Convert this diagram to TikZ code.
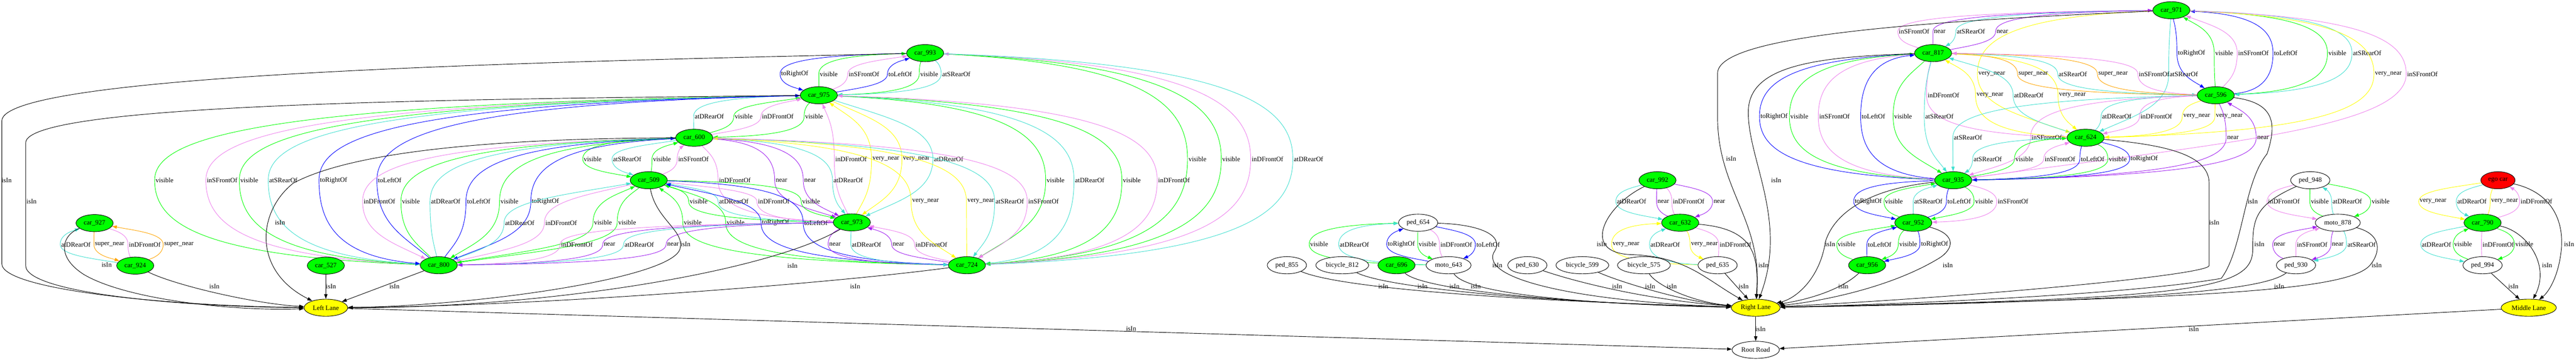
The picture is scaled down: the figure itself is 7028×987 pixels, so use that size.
\documentclass[tikz,border=0pt]{standalone}
\usepackage{fontspec}
\setmainfont{Liberation Serif}
\usetikzlibrary{shapes.geometric,arrows.meta,calc}
\definecolor{cgreen}{HTML}{00FF00}
\definecolor{cyellow}{HTML}{FFFF00}
\definecolor{cred}{HTML}{FF0000}
\definecolor{cturq}{HTML}{40E0D0}
\definecolor{cviol}{HTML}{EE82EE}
\definecolor{cblue}{HTML}{0000FF}
\definecolor{cpurp}{HTML}{A020F0}
\definecolor{corange}{HTML}{FFA500}
\pgfdeclarelayer{edgelayer}
\pgfsetlayers{edgelayer,main}
\newcommand\gvfont{\fontsize{14}{16.8}\selectfont}
\newcounter{lab}
\newcommand\mkedge[6]{%
  \stepcounter{lab}%
  \node[lbl] (lab\arabic{lab}) at (#4,#5) {#6};%
  \draw[#1] let \p1=(lab\arabic{lab}.west), \p2=(#2), \p3=(#3) in
    (#2) .. controls ({(\x2)+\aA*((\x1)-(\x2))},{(\y2)+\bA*((\y1)-(\y2))}) and (\x1,{0.5*((\y1)+(\y2))}) .. (\p1)
    .. controls (\x1,{0.5*((\y1)+(\y3))}) and ({(\x3)+\aB*((\x1)-(\x3))},{(\y3)+\bB*((\y1)-(\y3))}) .. (#3);%
}
\newcommand\edN{\def\aA{0.6}\def\bA{0.35}\def\aB{0.6}\def\bB{0.35}\mkedge}
\newcommand\edF{\def\aA{0.85}\def\bA{0.1}\def\aB{0.6}\def\bB{0.35}\mkedge}
\newcommand\edL{\def\aA{0.6}\def\bA{0.35}\def\aB{0.85}\def\bB{0.1}\mkedge}
\newcommand\edH{\def\aA{0.85}\def\bA{0.1}\def\aB{0.85}\def\bB{0.1}\mkedge}
\newcommand\islab[2]{\stepcounter{lab}\node[lbl] (lab\arabic{lab}) at (#1,#2) {isIn};}
\tikzset{
  nd/.style={ellipse, draw=black, line width=1pt, minimum height=36pt, inner xsep=5pt, inner ysep=1pt, font=\gvfont},
  carn/.style={nd, fill=cgreen},
  lanen/.style={nd, fill=cyellow},
  objn/.style={nd, fill=white},
  egon/.style={nd, fill=cred},
  lbl/.style={inner sep=2pt, font=\gvfont, text=black},
  ge/.style={line width=1pt, >={Triangle[length=10pt,width=7pt]}},
  evis/.style={ge, color=cgreen},
  erear/.style={ge, color=cturq},
  efront/.style={ge, color=cviol},
  elr/.style={ge, color=cblue},
  enr/.style={ge, color=cpurp},
  evn/.style={ge, color=cyellow},
  esn/.style={ge, color=corange},
  eisin/.style={ge, color=black}
}
\begin{document}
\begin{tikzpicture}[x=0.76923pt,y=-0.76923pt]
\useasboundingbox (0,0) rectangle (7028,987);
% ---------------- nodes ----------------
\node[carn] (c927) at (258,609) {car\_927};
\node[carn] (c924) at (369,725) {car\_924};
\node[carn] (c527) at (889,725) {car\_527};
\node[carn] (c800) at (1197,724) {car\_800};
\node[lanen] (LL) at (889,840) {Left Lane};
\node[carn] (c600) at (1894,376) {car\_600};
\node[carn] (c509) at (1770,492) {car\_509};
\node[carn] (c993) at (2524,145) {car\_993};
\node[carn] (c975) at (2234,260) {car\_975};
\node[carn] (c973) at (2324,607) {car\_973};
\node[carn] (c724) at (2638,724) {car\_724};
\node[objn] (p654) at (3869,608) {ped\_654};
\node[objn] (p855) at (3511,724) {ped\_855};
\node[objn] (b812) at (3662,724) {bicycle\_812};
\node[carn] (c696) at (3810,724) {car\_696};
\node[objn] (m643) at (3952,724) {moto\_643};
\node[objn] (p630) at (4167,724) {ped\_630};
\node[objn] (b599) at (4317,724) {bicycle\_599};
\node[objn] (b575) at (4485,724) {bicycle\_575};
\node[carn] (c992) at (4522,492) {car\_992};
\node[carn] (c632) at (4584,608) {car\_632};
\node[objn] (p635) at (4686,724) {ped\_635};
\node[lanen] (RL) at (4790,840) {Right Lane};
\node[objn] (RR) at (4790,955) {Root Road};
\node[carn] (c971) at (5924,28) {car\_971};
\node[carn] (c817) at (5274,145) {car\_817};
\node[carn] (c596) at (6045,260) {car\_596};
\node[carn] (c624) at (5690,376) {car\_624};
\node[carn] (c935) at (5329,492) {car\_935};
\node[carn] (c952) at (5220,608) {car\_952};
\node[carn] (c956) at (5094,724) {car\_956};
\node[objn] (p948) at (6303,492) {ped\_948};
\node[objn] (m878) at (6378,608) {moto\_878};
\node[objn] (p930) at (6264,724) {ped\_930};
\node[egon] (ego) at (6815,492) {ego car};
\node[carn] (c790) at (6773,608) {car\_790};
\node[objn] (p994) at (6773,724) {ped\_994};
\node[lanen] (ML) at (6899,840) {Middle Lane};
% ---------------- edges ----------------
\begin{pgfonlayer}{edgelayer}
\fill[white] (0,0) rectangle (7028,987);
% 927 - 924
\edN{erear,<-}{c927}{c924}{207}{667}{atDRearOf}
\edN{esn,->}{c927}{c924}{299}{667}{super\_near}
\edN{efront,->}{c927}{c924}{395}{667}{inDFrontOf}
\edN{esn,<-}{c927}{c924}{488}{667}{super\_near}
% 993 - 975
\edF{elr,->}{c993}{c975}{2168}{202}{toRightOf}
\edF{evis,<-}{c993}{c975}{2261}{202}{visible}
\edN{efront,<-}{c993}{c975}{2357}{202}{inSFrontOf}
\edN{elr,<-}{c993}{c975}{2456}{202}{toLeftOf}
\edL{evis,->}{c993}{c975}{2535}{202}{visible}
\edL{erear,->}{c993}{c975}{2609}{202}{atSRearOf}
% 975 - 600
\edF{erear,->}{c975}{c600}{1935}{318}{atDRearOf}
\edN{evis,<-}{c975}{c600}{2029}{318}{visible}
\edN{efront,<-}{c975}{c600}{2122}{318}{inDFrontOf}
\edL{evis,->}{c975}{c600}{2221}{318}{visible}
% 600 - 509
\edF{evis,->}{c600}{c509}{1617}{434}{visible}
\edN{erear,->}{c600}{c509}{1711}{434}{atSRearOf}
\edN{evis,<-}{c600}{c509}{1806}{434}{visible}
\edN{efront,<-}{c600}{c509}{1892}{434}{inSFrontOf}
% 975 - 973
\edN{efront,<-}{c975}{c973}{2322}{434}{inDFrontOf}
\edN{evn,<-}{c975}{c973}{2417}{434}{very\_near}
\edN{evn,->}{c975}{c973}{2500}{434}{very\_near}
\edN{erear,->}{c975}{c973}{2588}{434}{atDRearOf}
% 993 - 724
\edH{evis,->}{c993}{c724}{3267}{434}{visible}
\edH{evis,->}{c993}{c724}{3359}{434}{visible}
\edH{efront,<-}{c993}{c724}{3458}{434}{inDFrontOf}
\edH{erear,->}{c993}{c724}{3570}{434}{atDRearOf}
% 975 - 724
\edF{evis,->}{c975}{c724}{2880}{492}{visible}
\edH{erear,->}{c975}{c724}{2973}{492}{atDRearOf}
\edH{evis,->}{c975}{c724}{3088}{492}{visible}
\edH{efront,<-}{c975}{c724}{3203}{492}{inDFrontOf}
% 600 - 973
\edL{efront,->}{c600}{c973}{2005}{492}{inDFrontOf}
\edF{enr,->}{c600}{c973}{2132}{492}{near}
\edF{enr,->}{c600}{c973}{2210}{492}{near}
\edF{erear,->}{c600}{c973}{2314}{492}{atDRearOf}
% 975 - 800
\edH{evis,<-}{c975}{c800}{449}{492}{visible}
\edH{efront,<-}{c975}{c800}{606}{492}{inSFrontOf}
\edH{evis,->}{c975}{c800}{680}{492}{visible}
\edH{erear,->}{c975}{c800}{773}{492}{atSRearOf}
\edH{elr,->}{c975}{c800}{910}{492}{toRightOf}
\edF{elr,<-}{c975}{c800}{1063}{492}{toLeftOf}
% 600 - 800
\edF{efront,->}{c600}{c800}{1035}{550}{inDFrontOf}
\edF{evis,<-}{c600}{c800}{1121}{550}{visible}
\edF{erear,<-}{c600}{c800}{1216}{550}{atDRearOf}
\edF{elr,<-}{c600}{c800}{1306}{550}{toLeftOf}
\edF{evis,->}{c600}{c800}{1390}{550}{visible}
\edF{elr,->}{c600}{c800}{1488}{550}{toRightOf}
% 509 - 800
\edN{erear,<-}{c509}{c800}{1418}{608}{atDRearOf}
\edN{efront,->}{c509}{c800}{1531}{608}{inDFrontOf}
\edN{evis,<-}{c509}{c800}{1645}{608}{visible}
\edN{evis,->}{c509}{c800}{1711}{608}{visible}
% 509 - 973
\edL{evis,<-}{c509}{c973}{1906}{550}{visible}
\edL{erear,<-}{c509}{c973}{2002}{550}{atDRearOf}
\edL{efront,->}{c509}{c973}{2111}{550}{inDFrontOf}
\edF{evis,->}{c509}{c973}{2213}{550}{visible}
% 509 - 724
\edL{evis,<-}{c509}{c724}{1890}{608}{visible}
\edL{evis,->}{c509}{c724}{2007}{608}{visible}
\edL{elr,<-}{c509}{c724}{2116}{608}{toRightOf}
\edH{elr,->}{c509}{c724}{2226}{608}{toLeftOf}
% 973 - 724
\edL{enr,->}{c973}{c724}{2278}{667}{near}
\edL{erear,->}{c973}{c724}{2364}{667}{atDRearOf}
\edN{enr,<-}{c973}{c724}{2451}{667}{near}
\edN{efront,<-}{c973}{c724}{2541}{667}{inDFrontOf}
% 973 - 800
\edH{efront,->}{c973}{c800}{1574}{667}{inDFrontOf}
\edH{enr,->}{c973}{c800}{1663}{667}{near}
\edH{erear,->}{c973}{c800}{1744}{667}{atDRearOf}
\edH{enr,->}{c973}{c800}{1836}{667}{near}
% 600 - 724
\edF{evn,->}{c600}{c724}{2525}{550}{very\_near}
\edF{evn,<-}{c600}{c724}{2676}{550}{very\_near}
\edF{erear,->}{c600}{c724}{2755}{550}{atSRearOf}
\edF{efront,->}{c600}{c724}{2847}{550}{inSFrontOf}
% isIn to Left Lane
\islab{18}{492}
\draw[eisin,->] (c993) .. controls (1500,168) and (5,200) .. (5,330) -- (5,720) .. controls (5,790) and (450,835) .. (LL);
\islab{86}{550}
\draw[eisin,->] (c975) .. controls (1300,270) and (70,280) .. (70,390) -- (70,725) .. controls (70,800) and (500,838) .. (LL);
\islab{291}{723}
\draw[eisin,->] (c927) .. controls (170,640) and (150,700) .. (230,750) .. controls (350,820) and (650,850) .. (LL);
\islab{585}{782}
\draw[eisin,->] (c924) .. controls (480,780) and (700,830) .. (LL);
\islab{764}{608}
\draw[eisin,->] (c600) .. controls (1300,378) and (950,420) .. (800,500) .. controls (700,580) and (690,740) .. (LL);
\islab{903}{782}
\draw[eisin,->] (c527) -- (LL);
\islab{1076}{782}
\draw[eisin,->] (c800) -- (LL);
\islab{1870}{667}
\draw[eisin,->] (c509) .. controls (1790,600) and (1870,630) .. (1855,680) .. controls (1830,760) and (1300,835) .. (LL);
\islab{2162}{725}
\draw[eisin,->] (c973) .. controls (2100,740) and (1500,840) .. (LL);
\islab{2333}{782}
\draw[eisin,->] (c724) .. controls (2300,770) and (1500,835) .. (LL);
\islab{3086}{897}
\draw[eisin,->] (LL) -- (RR);
% ped_654 - moto_643
\edH{evis,<-}{p654}{m643}{3599}{667}{visible}
\edH{erear,<-}{p654}{m643}{3695}{667}{atDRearOf}
\edN{elr,<-}{p654}{m643}{3823}{667}{toRightOf}
\edN{evis,->}{p654}{m643}{3895}{667}{visible}
\edN{efront,->}{p654}{m643}{3973}{667}{inDFrontOf}
\edN{elr,->}{p654}{m643}{4060}{667}{toLeftOf}
% 992 - 632 - 635
\edN{erear,->}{c992}{c632}{4451}{550}{atDRearOf}
\edN{enr,<-}{c992}{c632}{4538}{550}{near}
\edN{efront,<-}{c992}{c632}{4607}{550}{inDFrontOf}
\edN{enr,->}{c992}{c632}{4691}{550}{near}
\edH{evn,<-}{c632}{p635}{4436}{667}{very\_near}
\edL{erear,<-}{c632}{p635}{4543}{667}{atDRearOf}
\edN{evn,->}{c632}{p635}{4650}{667}{very\_near}
\edN{efront,->}{c632}{p635}{4735}{667}{inDFrontOf}
% 971 - 817
\edF{efront,<-}{c971}{c817}{5222}{86}{inSFrontOf}
\edF{enr,->}{c971}{c817}{5292}{86}{near}
\edF{erear,->}{c971}{c817}{5377}{86}{atSRearOf}
\edF{enr,<-}{c971}{c817}{5463}{86}{near}
% 971 - 596
\edN{elr,->}{c971}{c596}{5979}{145}{toRightOf}
\edN{evis,<-}{c971}{c596}{6068}{145}{visible}
\edN{efront,<-}{c971}{c596}{6148}{145}{inSFrontOf}
\edH{elr,<-}{c971}{c596}{6236}{145}{toLeftOf}
\edH{evis,->}{c971}{c596}{6377}{145}{visible}
\edH{erear,->}{c971}{c596}{6458}{145}{atSRearOf}
% 971 - 624 / 935
\edF{evn,->}{c971}{c624}{5434}{202}{very\_near}
\edN{erear,->}{c971}{c624}{5958}{202}{atSRearOf}
\edH{evn,->}{c971}{c624}{6516}{202}{very\_near}
\edF{efront,->}{c971}{c935}{6609}{202}{inSFrontOf}
% 817 - 624
\edL{efront,->}{c817}{c624}{5302}{260}{inDFrontOf}
\edL{evn,<-}{c817}{c624}{5429}{260}{very\_near}
\edN{erear,<-}{c817}{c624}{5535}{260}{atDRearOf}
\edF{evn,->}{c817}{c624}{5654}{260}{very\_near}
% 817 - 596
\edH{esn,->}{c817}{c596}{5547}{202}{super\_near}
\edH{erear,->}{c817}{c596}{5655}{202}{atSRearOf}
\edH{esn,<-}{c817}{c596}{5765}{202}{super\_near}
\edH{efront,<-}{c817}{c596}{5877}{202}{inSFrontOf}
% 817 - 935
\edH{elr,->}{c817}{c935}{4840}{318}{toRightOf}
\edH{evis,<-}{c817}{c935}{4909}{318}{visible}
\edH{efront,->}{c817}{c935}{5005}{318}{inSFrontOf}
\edH{elr,<-}{c817}{c935}{5111}{318}{toLeftOf}
\edN{evis,->}{c817}{c935}{5192}{318}{visible}
\edN{erear,->}{c817}{c935}{5291}{318}{atSRearOf}
% 596 - 624
\edF{erear,->}{c596}{c624}{5775}{318}{atDRearOf}
\edF{efront,->}{c596}{c624}{5883}{318}{inDFrontOf}
\edL{evn,->}{c596}{c624}{5993}{318}{very\_near}
\edL{evn,<-}{c596}{c624}{6082}{318}{very\_near}
% 596 - 935
\edF{erear,->}{c596}{c935}{5369}{376}{atSRearOf}
\edF{efront,->}{c596}{c935}{5584}{376}{inSFrontOf}
\edL{enr,->}{c596}{c935}{6092}{376}{near}
\edL{enr,<-}{c596}{c935}{6174}{376}{near}
% 624 - 935
\edF{erear,->}{c624}{c935}{5423}{434}{atSRearOf}
\edF{evis,<-}{c624}{c935}{5523}{434}{visible}
\edN{efront,<-}{c624}{c935}{5620}{434}{inSFrontOf}
\edL{elr,<-}{c624}{c935}{5709}{434}{toLeftOf}
\edL{evis,->}{c624}{c935}{5778}{434}{visible}
\edL{elr,->}{c624}{c935}{5850}{434}{toRightOf}
% 935 - 952
\edF{elr,->}{c935}{c952}{5097}{550}{toRightOf}
\edN{evis,<-}{c935}{c952}{5167}{550}{visible}
\edN{erear,<-}{c935}{c952}{5261}{550}{atSRearOf}
\edN{elr,<-}{c935}{c952}{5345}{550}{toLeftOf}
\edN{evis,->}{c935}{c952}{5413}{550}{visible}
\edL{efront,->}{c935}{c952}{5492}{550}{inSFrontOf}
% 952 - 956
\edN{evis,<-}{c952}{c956}{5038}{667}{visible}
\edN{elr,<-}{c952}{c956}{5128}{667}{toLeftOf}
\edN{evis,->}{c952}{c956}{5206}{667}{visible}
\edN{elr,->}{c952}{c956}{5278}{667}{toRightOf}
% ped_948 - moto_878 - ped_930
\edN{efront,->}{p948}{m878}{6231}{550}{inDFrontOf}
\edN{evis,<-}{p948}{m878}{6329}{550}{visible}
\edN{erear,<-}{p948}{m878}{6404}{550}{atDRearOf}
\edN{evis,->}{p948}{m878}{6495}{550}{visible}
\edN{enr,<-}{m878}{p930}{6219}{667}{near}
\edN{efront,<-}{m878}{p930}{6308}{667}{inSFrontOf}
\edN{enr,->}{m878}{p930}{6378}{667}{near}
\edN{erear,->}{m878}{p930}{6443}{667}{atSRearOf}
% ego - 790 - 994
\edN{evn,->}{ego}{c790}{6638}{550}{very\_near}
\edN{erear,->}{ego}{c790}{6744}{550}{atDRearOf}
\edN{evn,<-}{ego}{c790}{6833}{550}{very\_near}
\edN{efront,<-}{ego}{c790}{6920}{550}{inDFrontOf}
\edN{erear,->}{c790}{p994}{6647}{667}{atDRearOf}
\edN{evis,<-}{c790}{p994}{6720}{667}{visible}
\edN{efront,<-}{c790}{p994}{6816}{667}{inDFrontOf}
\edN{evis,->}{c790}{p994}{6887}{667}{visible}
% isIn to Right Lane
\islab{4085}{724}
\draw[eisin,->] (p654) .. controls (4030,612) and (4110,640) .. (4075,690) .. controls (4040,770) and (4350,825) .. (RL);
\islab{3774}{782}
\draw[eisin,->] (p855) .. controls (3650,785) and (4100,820) .. (RL);
\islab{3881}{782}
\draw[eisin,->] (b812) .. controls (3780,785) and (4200,825) .. (RL);
\islab{3968}{782}
\draw[eisin,->] (c696) .. controls (3880,790) and (4250,828) .. (RL);
\islab{4026}{782}
\draw[eisin,->] (m643) .. controls (4000,800) and (4300,830) .. (RL);
\islab{4412}{782}
\draw[eisin,->] (p630) .. controls (4300,770) and (4500,820) .. (RL);
\islab{4502}{782}
\draw[eisin,->] (b599) .. controls (4420,770) and (4600,825) .. (RL);
\islab{4561}{782}
\draw[eisin,->] (b575) .. controls (4520,780) and (4620,825) .. (RL);
\islab{4757}{782}
\draw[eisin,->] (p635) -- (RL);
\islab{4370}{667}
\draw[eisin,->] (c992) .. controls (4380,560) and (4310,690) .. (4450,695) .. controls (4600,700) and (4650,760) .. (RL);
\islab{4811}{724}
\draw[eisin,->] (c632) .. controls (4790,625) and (4798,700) .. (RL);
\islab{4723}{434}
\draw[eisin,->] (c971) .. controls (5200,60) and (4686,100) .. (4686,200) -- (4686,320) .. controls (4686,520) and (4810,600) .. (RL);
\islab{4846}{492}
\draw[eisin,->] (c817) .. controls (4950,155) and (4775,180) .. (4770,300) .. controls (4765,430) and (4880,600) .. (RL);
\islab{4993}{667}
\draw[eisin,->] (c935) .. controls (5100,515) and (5005,580) .. (4980,660) .. controls (4965,760) and (4900,815) .. (RL);
\islab{5314}{724}
\draw[eisin,->] (c952) .. controls (5340,640) and (5330,680) .. (5290,705) .. controls (5150,790) and (4950,825) .. (RL);
\islab{5029}{782}
\draw[eisin,->] (c956) .. controls (5030,785) and (4950,815) .. (RL);
\islab{6041}{608}
\draw[eisin,->] (c624) .. controls (5900,395) and (6027,420) .. (6027,500) -- (6027,725) .. controls (6027,750) and (5400,810) .. (RL);
\islab{6146}{550}
\draw[eisin,->] (c596) .. controls (6200,280) and (6215,330) .. (6185,420) .. controls (6120,500) and (6120,680) .. (6060,760) .. controls (5800,805) and (5200,830) .. (RL);
\islab{6164}{667}
\draw[eisin,->] (p948) .. controls (6150,560) and (6146,600) .. (6146,680) .. controls (6146,790) and (6000,815) .. (RL);
\islab{6218}{782}
\draw[eisin,->] (p930) .. controls (6180,790) and (5900,822) .. (RL);
\islab{6484}{724}
\draw[eisin,->] (m878) .. controls (6500,640) and (6495,690) .. (6465,725) .. controls (6400,795) and (6000,815) .. (RL);
\islab{4803}{898}
\draw[eisin,->] (RL) -- (RR);
% isIn to Middle Lane
\islab{7009}{667}
\draw[eisin,->] (ego) .. controls (6960,525) and (6995,600) .. (6988,680) .. controls (6980,760) and (6950,800) .. (ML);
\islab{6949}{724}
\draw[eisin,->] (c790) .. controls (6890,630) and (6960,720) .. (ML);
\islab{6857}{782}
\draw[eisin,->] (p994) -- (ML);
\islab{5985}{899}
\draw[eisin,->] (ML) -- (RR);
\end{pgfonlayer}
\end{tikzpicture}
\end{document}
